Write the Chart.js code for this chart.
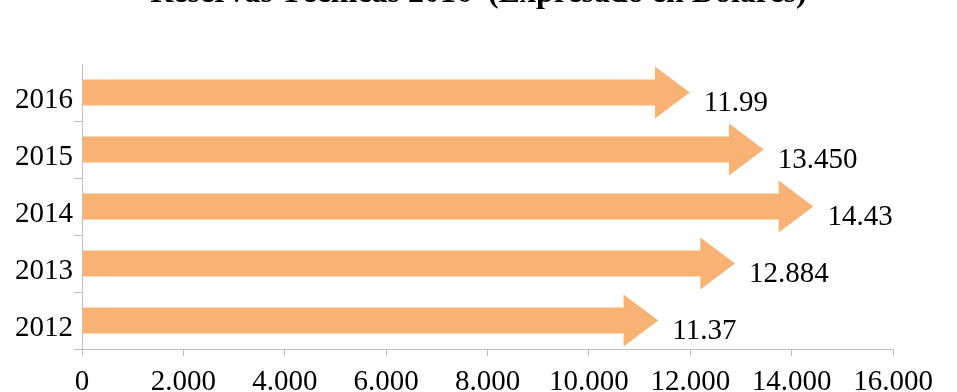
<!DOCTYPE html>
<html>
<head>
<meta charset="utf-8">
<script src="https://cdn.jsdelivr.net/npm/chart.js@4"></script>
<style>
  html, body { margin: 0; padding: 0; background: #ffffff; }
  #wrap { width: 957px; height: 392px; position: relative; }
</style>
</head>
<body>
<div id="wrap"><canvas id="c"></canvas></div>
<script>
const titleText = 'Reservas Técnicas 2016  (Expresado en Dólares)';
const categories = ['2016', '2015', '2014', '2013', '2012'];
const values = [11990, 13450, 14430, 12884, 11370];
const valueLabels = ['11.99', '13.450', '14.43', '12.884', '11.37'];
const xTickValues = [0, 2000, 4000, 6000, 8000, 10000, 12000, 14000, 16000];
const xTickLabels = ['0', '2.000', '4.000', '6.000', '8.000', '10.000', '12.000', '14.000', '16.000'];

const ARROW_COLOR = '#F8B273';
const AXIS_COLOR = '#BFBFBF';
const FONT = "'Liberation Serif', 'Times New Roman', serif";

const arrowPlugin = {
  id: 'arrows',
  afterDatasetsDraw(chart) {
    const ctx = chart.ctx;
    const meta = chart.getDatasetMeta(0);
    ctx.save();
    meta.data.forEach((el, i) => {
      const p = el.getProps(['x', 'y', 'base', 'height'], true);
      const tip = p.x, base = p.base, cy = p.y, h = p.height;
      const shaftH = h * 0.5;
      const headLen = h * 0.67;
      const neck = tip - headLen;
      ctx.beginPath();
      ctx.moveTo(base, cy - shaftH / 2);
      ctx.lineTo(neck, cy - shaftH / 2);
      ctx.lineTo(neck, cy - h / 2);
      ctx.lineTo(tip, cy);
      ctx.lineTo(neck, cy + h / 2);
      ctx.lineTo(neck, cy + shaftH / 2);
      ctx.lineTo(base, cy + shaftH / 2);
      ctx.closePath();
      ctx.fillStyle = ARROW_COLOR;
      ctx.fill();
      ctx.fillStyle = '#000000';
      ctx.font = '29px ' + FONT;
      ctx.textAlign = 'left';
      ctx.textBaseline = 'alphabetic';
      ctx.fillText(valueLabels[i], tip + 14, cy + 18);
    });
    ctx.restore();
  }
};

new Chart(document.getElementById('c'), {
  type: 'bar',
  data: {
    labels: categories,
    datasets: [{
      data: values,
      backgroundColor: 'rgba(0,0,0,0)',
      borderWidth: 0,
      categoryPercentage: 1.0,
      barPercentage: 0.91
    }]
  },
  options: {
    indexAxis: 'y',
    responsive: true,
    maintainAspectRatio: false,
    animation: false,
    events: [],
    layout: { padding: 0 },
    plugins: {
      legend: { display: false },
      tooltip: { enabled: false },
      title: {
        display: true,
        text: titleText,
        color: '#000000',
        font: { family: FONT, size: 32, weight: 'bold', lineHeight: 1.2 },
        padding: { top: -25, bottom: 50.6 }
      }
    },
    scales: {
      x: {
        type: 'linear',
        min: 0,
        max: 16000,
        afterBuildTicks(scale) {
          scale.ticks = xTickValues.map(v => ({ value: v }));
        },
        afterFit(scale) { scale.height = 43; },
        ticks: {
          color: '#000000',
          font: { family: FONT, size: 29 },
          padding: 9,
          maxRotation: 0,
          autoSkip: false,
          callback: (v, i) => xTickLabels[i]
        },
        grid: {
          drawOnChartArea: false,
          drawTicks: true,
          tickLength: 7,
          color: AXIS_COLOR
        },
        border: { display: true, color: AXIS_COLOR, width: 1 }
      },
      y: {
        afterFit(scale) { scale.width = 82; },
        ticks: {
          color: '#000000',
          font: { family: FONT, size: 29 },
          padding: 1,
          labelOffset: 8
        },
        grid: {
          offset: true,
          drawOnChartArea: false,
          drawTicks: true,
          tickLength: 8,
          color: (c) => (c.index === 0 ? 'rgba(0,0,0,0)' : AXIS_COLOR)
        },
        border: { display: true, color: AXIS_COLOR, width: 1 }
      },
      spacer: {
        type: 'linear',
        position: 'right',
        display: true,
        afterFit(scale) { scale.width = 64; },
        ticks: { display: false },
        grid: { display: false, drawTicks: false },
        border: { display: false }
      }
    }
  },
  plugins: [arrowPlugin]
});
</script>
</body>
</html>
